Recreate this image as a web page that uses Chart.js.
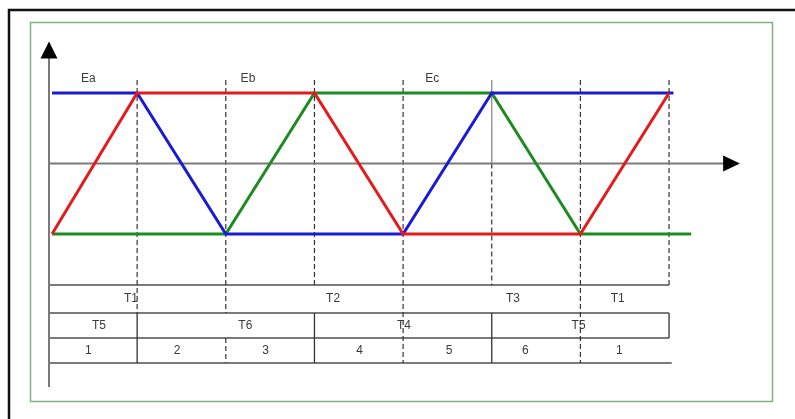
<!DOCTYPE html>
<html>
<head>
<meta charset="utf-8">
<script src="https://cdn.jsdelivr.net/npm/chart.js@4/dist/chart.umd.min.js"></script>
<style>
  html, body { margin: 0; padding: 0; background: #fff; }
  #wrap { width: 795px; height: 419px; }
</style>
</head>
<body>
<div id="wrap"><canvas id="c" width="795" height="419"></canvas></div>
<script>
// ---- Data (x in 60-degree sectors, y in normalized back-EMF) ----
const phaseA_x = [0.04, 1, 3, 4, 6, 7];
const phaseA_y = [-1, 1, 1, -1, -1, 1];
const phaseB_x = [0.04, 1, 2, 4, 5, 7.05];
const phaseB_y = [1, 1, -1, -1, 1, 1];
const phaseC_x = [0.04, 2, 3, 5, 6, 7.25];
const phaseC_y = [-1, -1, 1, 1, -1, -1];

const emfLabels = ["Ea", "Eb", "Ec"];
const emfLabelX = [0.45, 2.25, 4.33];

const row1Labels = ["T1", "T2", "T3", "T1"];
const row1X = [0.93, 3.21, 5.24, 6.42];
const row2Labels = ["T5", "T6", "T4", "T5"];
const row2X = [0.57, 2.22, 4.01, 5.98];
const row3Labels = ["1", "2", "3", "4", "5", "6", "1"];
const row3X = [0.45, 1.45, 2.45, 3.51, 4.52, 5.38, 6.44];

const pts = (xs, ys) => xs.map((x, i) => ({ x: x, y: ys[i] }));

// ---- Decoration plugin (axes, arrows, dashed markers, sequence table) ----
const diagram = {
  id: 'diagram',
  beforeDatasetsDraw(chart) {
    const ctx = chart.ctx;
    const X = v => chart.scales.x.getPixelForValue(v);
    const Y = v => chart.scales.y.getPixelForValue(v);
    ctx.save();
    // outer frames
    ctx.strokeStyle = '#111'; ctx.lineWidth = 2.5;
    ctx.beginPath(); ctx.moveTo(9, 430); ctx.lineTo(9, 10); ctx.lineTo(800, 10); ctx.stroke();
    ctx.strokeStyle = '#7fb57f'; ctx.lineWidth = 1.5;
    ctx.strokeRect(30.5, 22.5, 742, 379);

    // table rows (y units)
    const rowY = [-1.723, -2.121, -2.475, -2.830];
    const x0 = 0.006;
    ctx.strokeStyle = '#7a7a7a'; ctx.lineWidth = 2;
    ctx.beginPath();
    ctx.moveTo(X(x0), Y(rowY[0])); ctx.lineTo(X(7.0), Y(rowY[0]));
    ctx.moveTo(X(x0), Y(rowY[1])); ctx.lineTo(X(7.0), Y(rowY[1]));
    ctx.moveTo(X(x0), Y(rowY[2])); ctx.lineTo(X(7.0), Y(rowY[2]));
    ctx.moveTo(X(x0), Y(rowY[3])); ctx.lineTo(X(7.03), Y(rowY[3]));
    ctx.stroke();

    // solid dividers
    ctx.strokeStyle = '#333'; ctx.lineWidth = 1.3;
    ctx.beginPath();
    [[1, rowY[1], rowY[3]], [3, rowY[1], rowY[3]], [5, rowY[1], rowY[3]], [7, rowY[1], rowY[2]]]
      .forEach(s => { ctx.moveTo(X(s[0]), Y(s[1])); ctx.lineTo(X(s[0]), Y(s[2])); });
    ctx.stroke();

    // solid gray marker above axis at sector 5
    ctx.strokeStyle = '#8a8a8a'; ctx.lineWidth = 1.3;
    ctx.beginPath(); ctx.moveTo(X(5), Y(1.184)); ctx.lineTo(X(5), Y(0)); ctx.stroke();

    // dashed markers
    const topY = 1.184;
    ctx.setLineDash([5, 3]);
    ctx.strokeStyle = '#333'; ctx.lineWidth = 1.2;
    ctx.beginPath();
    [[1, topY, rowY[1]], [2, topY, rowY[1]], [2, rowY[2], rowY[3]], [3, topY, rowY[0]],
     [4, topY, rowY[3]], [5, 0, rowY[0]], [6, topY, rowY[3]], [7, topY, rowY[0]]]
      .forEach(s => { ctx.moveTo(X(s[0]), Y(s[1])); ctx.lineTo(X(s[0]), Y(s[2])); });
    ctx.stroke();
    ctx.setLineDash([]);

    // axes
    ctx.strokeStyle = '#7a7a7a'; ctx.lineWidth = 2;
    ctx.beginPath();
    ctx.moveTo(49, Y(-3.17)); ctx.lineTo(49, Y(1.6));
    ctx.moveTo(49, Y(0)); ctx.lineTo(X(7.63), Y(0));
    ctx.stroke();
    ctx.fillStyle = '#000';
    ctx.beginPath();
    ctx.moveTo(49, Y(1.73)); ctx.lineTo(57.5, Y(1.49)); ctx.lineTo(40.5, Y(1.49)); ctx.closePath(); ctx.fill();
    ctx.beginPath();
    ctx.moveTo(X(7.8), Y(0)); ctx.lineTo(X(7.61), Y(0) - 8); ctx.lineTo(X(7.61), Y(0) + 8); ctx.closePath(); ctx.fill();

    // text
    ctx.fillStyle = '#3a3a3a';
    ctx.font = '12px "Liberation Sans", Arial, sans-serif';
    ctx.textAlign = 'center'; ctx.textBaseline = 'middle';
    emfLabels.forEach((t, i) => ctx.fillText(t, X(emfLabelX[i]), Y(1.2)));
    row1Labels.forEach((t, i) => ctx.fillText(t, X(row1X[i]), Y(-1.915)));
    row2Labels.forEach((t, i) => ctx.fillText(t, X(row2X[i]), Y(-2.305)));
    row3Labels.forEach((t, i) => ctx.fillText(t, X(row3X[i]), Y(-2.66)));
    ctx.restore();
  }
};

const ds = (label, xs, ys, color) => ({
  label: label, data: pts(xs, ys), borderColor: color, backgroundColor: color,
  borderWidth: 3, pointRadius: 0, tension: 0, fill: false, clip: false
});

new Chart(document.getElementById('c'), {
  type: 'line',
  data: {
    datasets: [
      ds('Ea', phaseA_x, phaseA_y, '#e31b1b'),
      ds('Eb', phaseB_x, phaseB_y, '#1a1ad6'),
      ds('Ec', phaseC_x, phaseC_y, '#1e8a22')
    ]
  },
  options: {
    responsive: false,
    animation: false,
    devicePixelRatio: 1,
    layout: { padding: 0 },
    plugins: { legend: { display: false }, tooltip: { enabled: false } },
    scales: {
      x: { type: 'linear', display: false, min: -0.5471, max: 8.4208 },
      y: { type: 'linear', display: false, min: -3.6241, max: 2.3191 }
    }
  },
  plugins: [diagram]
});
</script>
</body>
</html>
